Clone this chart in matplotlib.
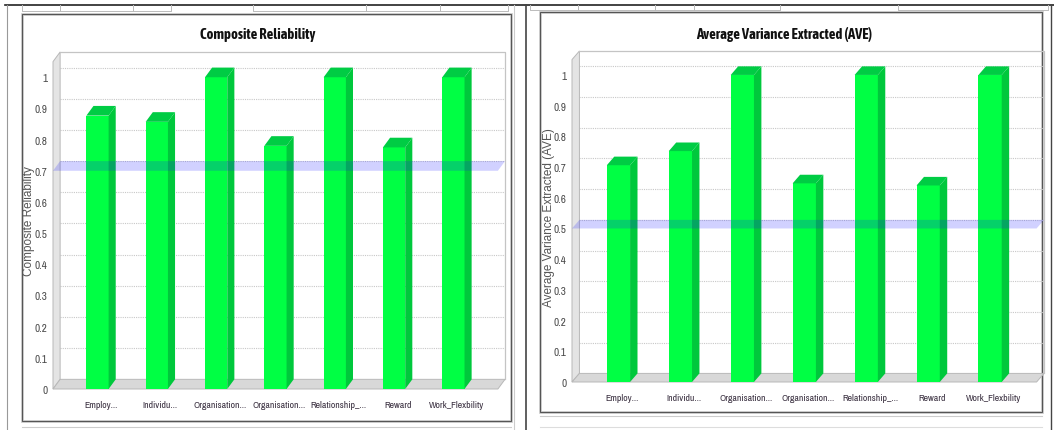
import matplotlib
matplotlib.use("Agg")
import matplotlib.pyplot as plt
import numpy as np
from matplotlib.patches import Polygon, Rectangle

categories = ['Employ...', 'Individu...', 'Organisation...', 'Organisation...',
              'Relationship_...', 'Reward', 'Work_Flexbility']
cr_values = [0.877, 0.857, 1.0, 0.780, 1.0, 0.775, 1.0]
ave_values = [0.706, 0.752, 1.0, 0.647, 1.0, 0.640, 1.0]
cr_threshold = 0.7
ave_threshold = 0.5
yticks = [0, 0.1, 0.2, 0.3, 0.4, 0.5, 0.6, 0.7, 0.8, 0.9, 1.0]

narrow = ['Archivo Narrow', 'DejaVu Sans']
narrow_bold = ['Asap Condensed', 'DejaVu Sans']
regular = ['Liberation Sans', 'DejaVu Sans']

FRONT = '#00ff44'
SIDE = '#00c83c'
TOP = '#00cc44'

W, H = 1054, 431
fig = plt.figure(figsize=(W / 100, H / 100), dpi=100)

# background layer in pixel coordinates for frames and window chrome
bg = fig.add_axes([0, 0, 1, 1])
bg.set_xlim(0, W)
bg.set_ylim(H, 0)
bg.axis('off')

bg.plot([5, W], [6, 6], color='#222222', lw=1.2)
bg.plot([7, 7], [6, H], color='#999999', lw=0.8)
bg.plot([526, 526], [6, H], color='#444444', lw=1.2)
bg.plot([514, 514], [6, H], color='#cccccc', lw=0.8)
bg.plot([1051, 1051], [6, H], color='#444444', lw=1.0)
for x0, x1 in [(22, 60), (60, 133), (133, 171), (253, 366), (366, 440), (440, 508)]:
    bg.plot([x0, x0, x1, x1], [6, 12, 12, 6], color='#bbbbbb', lw=0.7)
for x0, x1 in [(530, 578), (578, 655), (655, 694), (694, 780), (898, 1048)]:
    bg.plot([x0, x0, x1, x1], [6, 11, 11, 6], color='#bbbbbb', lw=0.7)

# panel frames
bg.add_patch(Rectangle((22, 15), 489, 407, fill=False, ec='#cccccc', lw=2.0))
bg.add_patch(Rectangle((22, 15), 489, 407, fill=False, ec='#555555', lw=0.8))
bg.add_patch(Rectangle((540, 13), 502, 400, fill=False, ec='#cccccc', lw=2.0))
bg.add_patch(Rectangle((540, 13), 502, 400, fill=False, ec='#555555', lw=0.8))
bg.plot([22, 511], [428, 428], color='#cccccc', lw=0.8)
bg.plot([540, 1042], [417, 417], color='#cccccc', lw=0.8)
bg.plot([540, 1042], [428, 428], color='#dddddd', lw=0.8)


def draw_panel(ax, values, threshold, ylabel, label_x, dx=0.12, dy=0.031):
    n = len(values)
    x0, x1 = -0.75, n - 0.25
    top = 1.05
    ax.set_xlim(x0, x1 + dx)
    ax.set_ylim(0, top + dy)
    ax.patch.set_alpha(0)
    for s in ax.spines.values():
        s.set_visible(False)

    # back wall outline and grid
    ax.plot([x0 + dx, x1 + dx, x1 + dx], [top + dy, top + dy, dy],
            color='#c4c4c4', lw=0.9, clip_on=False)
    for v in yticks[1:]:
        ax.plot([x0 + dx, x1 + dx], [v + dy, v + dy], color='#c8c8c8',
                lw=0.8, ls=(0, (1, 1)), zorder=1)

    # left wall and floor
    ax.add_patch(Polygon([(x0, 0), (x0 + dx, dy), (x0 + dx, top + dy), (x0, top)],
                         closed=True, fc='#e4e4e4', ec='#b8b8b8', lw=0.7,
                         clip_on=False, zorder=1))
    ax.add_patch(Polygon([(x0, 0), (x0 + dx, dy), (x1 + dx, dy), (x1, 0)],
                         closed=True, fc='#d8d8d8', ec='#b8b8b8', lw=0.7,
                         clip_on=False, zorder=1))

    # bars: front face from bar(), side and top faces follow each value
    width = 0.375
    xs = np.arange(n)
    ax.bar(xs, values, width=width, color=FRONT, zorder=3)
    for x, v in zip(xs, values):
        l, r = x - width / 2, x + width / 2
        ax.add_patch(Polygon([(r, 0), (r + dx, dy), (r + dx, v + dy), (r, v)],
                             closed=True, fc=SIDE, ec='none', zorder=3))
        ax.add_patch(Polygon([(l, v), (l + dx, v + dy), (r + dx, v + dy), (r, v)],
                             closed=True, fc=TOP, ec='none', zorder=3))

    # threshold plane
    ax.add_patch(Polygon([(x0, threshold), (x0 + dx, threshold + dy),
                          (x1 + dx, threshold + dy), (x1, threshold)],
                         closed=True, fc=(0.1, 0.1, 1.0), alpha=0.2, ec='none',
                         zorder=4, clip_on=False))

    ax.set_yticks(yticks)
    ax.set_yticklabels(['0' if t == 0 else ('1' if t == 1 else f'{t:g}') for t in yticks],
                       family=narrow, fontsize=8, color='#4a4a4a')
    ax.set_xticks(xs + dx / 2)
    ax.set_xticklabels(categories, family=narrow, fontsize=7, color='#3a3040')
    ax.tick_params(axis='both', length=0)
    ax.tick_params(axis='y', pad=4)
    ax.tick_params(axis='x', pad=8)
    ax.set_ylabel(ylabel, family=regular, fontsize=8.5, color='#555555')
    ax.yaxis.set_label_coords(label_x, 0.5)


ax1 = fig.add_axes([53 / W, 41 / H, 452 / W, 337 / H])
draw_panel(ax1, cr_values, cr_threshold, 'Composite Reliability', -0.039)
ax2 = fig.add_axes([572 / W, 48 / H, 472 / W, 331 / H])
draw_panel(ax2, ave_values, ave_threshold, 'Average Variance Extracted (AVE)', -0.037,
           dy=0.028)

fig.text(258 / W, 1 - 35 / H, 'Composite Reliability', family=narrow_bold,
         fontweight='bold', fontsize=10.5, ha='center', va='center', color='#111111')
fig.text(784 / W, 1 - 35 / H, 'Average Variance Extracted (AVE)', family=narrow_bold,
         fontweight='bold', fontsize=10.5, ha='center', va='center', color='#111111')

fig.savefig('out.png', dpi=100, facecolor='white')
